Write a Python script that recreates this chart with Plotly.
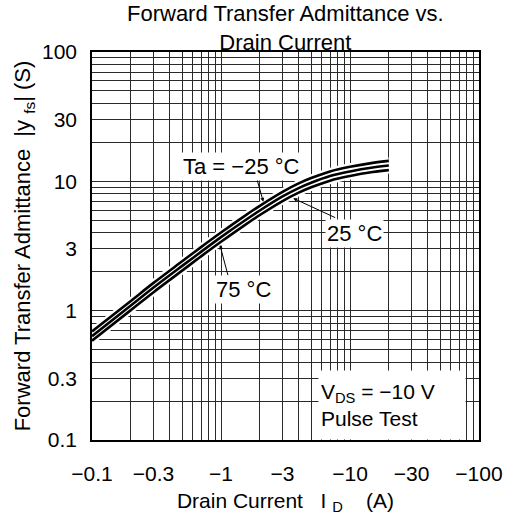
import math
import plotly.graph_objects as go

# Drain current I_D (A) and |y_fs| (S) for each ambient temperature
drain_current = [-0.1, -0.2, -0.3, -0.5, -0.7, -1, -1.5, -2, -3, -4, -5, -7, -10, -15, -20]
yfs_m25 = [0.69, 1.19, 1.64, 2.41, 3.10, 4.02, 5.34, 6.47, 8.30, 9.64, 10.6, 11.93, 12.96, 13.9, 14.4]
yfs_25 = [0.635, 1.095, 1.51, 2.22, 2.85, 3.70, 4.91, 5.95, 7.64, 8.87, 9.75, 10.98, 11.92, 12.79, 13.25]
yfs_75 = [0.585, 1.01, 1.39, 2.04, 2.63, 3.41, 4.53, 5.49, 7.04, 8.17, 8.99, 10.12, 10.99, 11.79, 12.21]

x_tickvals = [0.1, 0.3, 1, 3, 10, 30, 100]
x_ticktext = ["\u22120.1", "\u22120.3", "\u22121", "\u22123", "\u221210", "\u221230", "\u2212100"]
y_tickvals = [0.1, 0.3, 1, 3, 10, 30, 100]
y_ticktext = ["0.1", "0.3", "1", "3", "10", "30", "100"]
minor_vals = [m * d for d in (0.1, 1, 10) for m in (2, 4, 5, 6, 7, 8, 9)]

FONT = "Liberation Sans, Arial, Helvetica, sans-serif"
GRID = "#2a2a2a"
NB = "\u00a0"

x_abs = [abs(v) for v in drain_current]

fig = go.Figure()
for ys in (yfs_m25, yfs_25, yfs_75):
    fig.add_trace(go.Scatter(x=x_abs, y=ys, mode="lines", line=dict(color="white", width=7, shape="spline"),
                             hoverinfo="skip", showlegend=False))
for ys in (yfs_m25, yfs_25, yfs_75):
    fig.add_trace(go.Scatter(x=x_abs, y=ys, mode="lines", line=dict(color="black", width=2.6, shape="spline"),
                             showlegend=False))

L = math.log10


def label(text, x, y):
    fig.add_annotation(x=L(x), y=L(y), xref="x", yref="y", text=text, showarrow=False,
                       bgcolor="white", font=dict(family=FONT, size=22, color="black"), borderpad=1)


def leader(x_tail, y_tail, x_head, y_head):
    fig.add_annotation(x=L(x_head), y=L(y_head), ax=L(x_tail), ay=L(y_tail), xref="x", yref="y",
                       axref="x", ayref="y", text="", showarrow=True, arrowhead=2, arrowsize=0.8,
                       arrowwidth=1, arrowcolor="black")


leader(10 ** 0.277, 10 ** 1.023, 10 ** 0.328, 10 ** 0.842)
leader(10 ** 0.897, 10 ** 0.714, 10 ** 0.560, 10 ** 0.869)
leader(10 ** 0.057, 10 ** 0.262, 10 ** -0.008, 10 ** 0.507)

label("Ta = \u221225 \u00b0C", 10 ** 0.155, 10 ** 1.118)
label("25 \u00b0C", 10 ** 1.031, 10 ** 0.60)
label("75 \u00b0C", 10 ** 0.178, 10 ** 0.166)

fig.add_annotation(xref="paper", yref="paper", x=0.584, y=0.0, xanchor="left", yanchor="bottom",
                   text="V<sub>DS</sub> = \u221210 V<br>Pulse Test", align="left", showarrow=False,
                   bgcolor="white", width=142, height=64, borderpad=2,
                   font=dict(family=FONT, size=21, color="black"))

# chart title as a paper-anchored annotation
fig.add_annotation(xref="paper", yref="paper", x=0.5, y=1.0, xanchor="center", yanchor="bottom", yshift=-5,
                   text="Forward Transfer Admittance vs.<br>Drain Current", showarrow=False,
                   font=dict(family=FONT, size=22, color="black"))

axis_common = dict(type="log", range=[-1, 2], showline=True, linecolor="black", linewidth=1.5, mirror=True,
                   showgrid=True, gridcolor=GRID, gridwidth=1, zeroline=False,
                   tickfont=dict(family=FONT, size=21, color="black"),
                   minor=dict(tickvals=minor_vals, showgrid=True, gridcolor=GRID, gridwidth=1))

fig.update_xaxes(**axis_common, tickmode="array", tickvals=x_tickvals, ticktext=x_ticktext,
                 ticks="outside", ticklen=14, tickcolor="rgba(0,0,0,0)",
                 title=dict(text="Drain Current" + NB * 3 + "I" + NB + "<sub>D</sub>" + NB * 4 + "(A)",
                            standoff=10, font=dict(family=FONT, size=21, color="black")))
fig.update_yaxes(**axis_common, tickmode="array", tickvals=y_tickvals, ticktext=y_ticktext,
                 ticks="outside", ticklen=9, tickcolor="rgba(0,0,0,0)",
                 title=dict(text="Forward Transfer Admittance" + NB * 2 + "|y" + NB + "<sub>fs</sub>|" + NB + "(S)",
                            standoff=5, font=dict(family=FONT, size=22, color="black")))

fig.update_layout(
    width=509, height=515,
    margin=dict(l=92, r=30, t=52, b=75, autoexpand=False),
    paper_bgcolor="white", plot_bgcolor="white",
    showlegend=False,
)

fig.write_html("out.html", config={"displayModeBar": False},
               post_script="document.body.style.margin='0';")
